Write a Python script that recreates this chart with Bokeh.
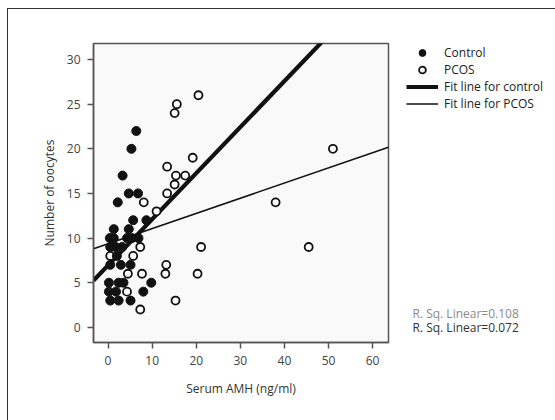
from bokeh.plotting import figure
from bokeh.models import Range1d, Legend, LegendItem, Label, FixedTicker
from bokeh.layouts import row
from bokeh.embed import file_html
from bokeh.resources import INLINE

# --- data -------------------------------------------------------------
control_amh = [6.4, 5.3, 3.3, 4.7, 6.8, 2.2, 5.7, 8.7, 1.3, 4.7,
               0.4, 1.3, 4.3, 5.4, 6.9, 0.5, 1.7, 3.2, 2.0,
               0.5, 2.9, 5.1, 0.2, 2.4, 3.5, 9.8, 0.2, 1.8, 8.0,
               0.5, 2.4, 5.1]
control_oocytes = [22, 20, 17, 15, 15, 14, 12, 12, 11, 11,
                   10, 10, 10, 10, 10, 9, 9, 9, 8,
                   7, 7, 7, 5, 5, 5, 5, 4, 4, 4,
                   3, 3, 3]

pcos_amh = [20.5, 15.6, 15.1, 51.0, 19.2, 13.4, 15.4, 17.5, 15.1, 13.4,
            8.1, 38.0, 11.0, 21.1, 45.5, 7.3, 0.5, 5.7, 13.2, 13.0,
            20.3, 4.5, 7.7, 4.3, 15.3, 7.3]
pcos_oocytes = [26, 25, 24, 20, 19, 18, 17, 17, 16, 15,
                14, 14, 13, 9, 9, 9, 8, 8, 7, 6,
                6, 6, 6, 4, 3, 2]

series_names = ["Control", "PCOS"]
fit_names = ["Fit line for control", "Fit line for PCOS"]
fit_intercept = [6.95, 9.36]
fit_slope = [0.516, 0.170]
r_sq_labels = ["R. Sq. Linear=0.108", "R. Sq. Linear=0.072"]

x_ticks = [0, 10, 20, 30, 40, 50, 60]
y_ticks = [0, 5, 10, 15, 20, 25, 30]

FONT = "Open Sans"
INK = "#111111"
FIT_WIDTHS = [4.2, 1.5]


def draw_series(fig, x0, x1):
    """Draw fit lines and both point series; returns the renderers."""
    lines = []
    for a, b, w in zip(fit_intercept, fit_slope, FIT_WIDTHS):
        lines.append(fig.line([x0, x1], [a + b * x0, a + b * x1],
                              line_color=INK, line_width=w))
    r_pcos = fig.scatter(pcos_amh, pcos_oocytes, marker="circle", size=8,
                         fill_color="white", line_color=INK, line_width=1.8)
    r_ctrl = fig.scatter(control_amh, control_oocytes, marker="circle", size=9,
                         fill_color=INK, line_color=INK)
    return r_ctrl, r_pcos, lines[0], lines[1]


# --- main scatter plot -----------------------------------------------
p = figure(width=392, height=411, output_backend="svg", toolbar_location=None,
           x_range=Range1d(-3.3, 63.6), y_range=Range1d(-1.7, 31.8),
           min_border_left=85, min_border_right=12, min_border_top=34,
           min_border_bottom=78)
p.frame_width = 295
p.frame_height = 299

p.background_fill_color = "#f9f9f9"
p.border_fill_color = "white"
p.outline_line_color = "#555555"
p.outline_line_width = 1.5
p.grid.visible = False

for ax in (p.xaxis[0], p.yaxis[0]):
    ax.axis_line_color = "#555555"
    ax.axis_line_width = 1.5
    ax.major_tick_line_color = "#555555"
    ax.major_tick_line_width = 1.5
    ax.major_tick_in = 0
    ax.major_tick_out = 6
    ax.minor_tick_line_color = None
    ax.major_label_text_font = FONT
    ax.major_label_text_font_size = "12px"
    ax.major_label_text_color = "#444444"
    ax.axis_label_text_font = FONT
    ax.axis_label_text_font_size = "12px"
    ax.axis_label_text_font_style = "normal"
    ax.axis_label_text_color = "#333333"

p.xaxis.ticker = FixedTicker(ticks=x_ticks)
p.yaxis.ticker = FixedTicker(ticks=y_ticks)
p.xaxis.axis_label = "Serum AMH (ng/ml)"
p.yaxis.axis_label = "Number of oocytes"
p.xaxis.major_label_standoff = 7
p.yaxis.major_label_standoff = 7
p.xaxis.axis_label_standoff = 12
p.yaxis.axis_label_standoff = 6

draw_series(p, p.x_range.start, p.x_range.end)

# --- legend / statistics panel ---------------------------------------
# Same series drawn again here only as legend sources; with this panel's
# 0..1 ranges they fall outside its frame and stay hidden.
q = figure(width=155, height=411, output_backend="svg", toolbar_location=None,
           x_range=Range1d(0, 1), y_range=Range1d(0, 1),
           min_border=0)
q.axis.visible = False
q.grid.visible = False
q.outline_line_color = None
q.background_fill_color = "white"
q.border_fill_color = "white"

lg_ctrl, lg_pcos, lg_fit1, lg_fit2 = draw_series(q, p.x_range.start, p.x_range.end)

legend = Legend(items=[
    LegendItem(label=series_names[0], renderers=[lg_ctrl]),
    LegendItem(label=series_names[1], renderers=[lg_pcos]),
    LegendItem(label=fit_names[0], renderers=[lg_fit1]),
    LegendItem(label=fit_names[1], renderers=[lg_fit2]),
], location=(6, 230))
legend.border_line_color = None
legend.background_fill_alpha = 0
legend.padding = 0
legend.margin = 0
legend.spacing = 0
legend.glyph_width = 32
legend.glyph_height = 17
legend.label_height = 17
legend.label_standoff = 6
legend.label_text_font = FONT
legend.label_text_font_size = "12px"
legend.label_text_color = "#222222"
q.add_layout(legend, "center")

q.add_layout(Label(x=12, y=29, x_units="screen", y_units="screen",
                   text=r_sq_labels[0], text_font=FONT, text_font_size="12px",
                   text_color="#8a8a8a", text_baseline="middle"))
q.add_layout(Label(x=12, y=15, x_units="screen", y_units="screen",
                   text=r_sq_labels[1], text_font=FONT, text_font_size="12px",
                   text_color="#333333", text_baseline="middle"))

layout = row(p, q, margin=(8, 0, 0, 7),
             styles={"border-left": "1px solid #333333",
                     "border-top": "1px solid #333333"})

open("out.html", "w").write(file_html(layout, INLINE))
